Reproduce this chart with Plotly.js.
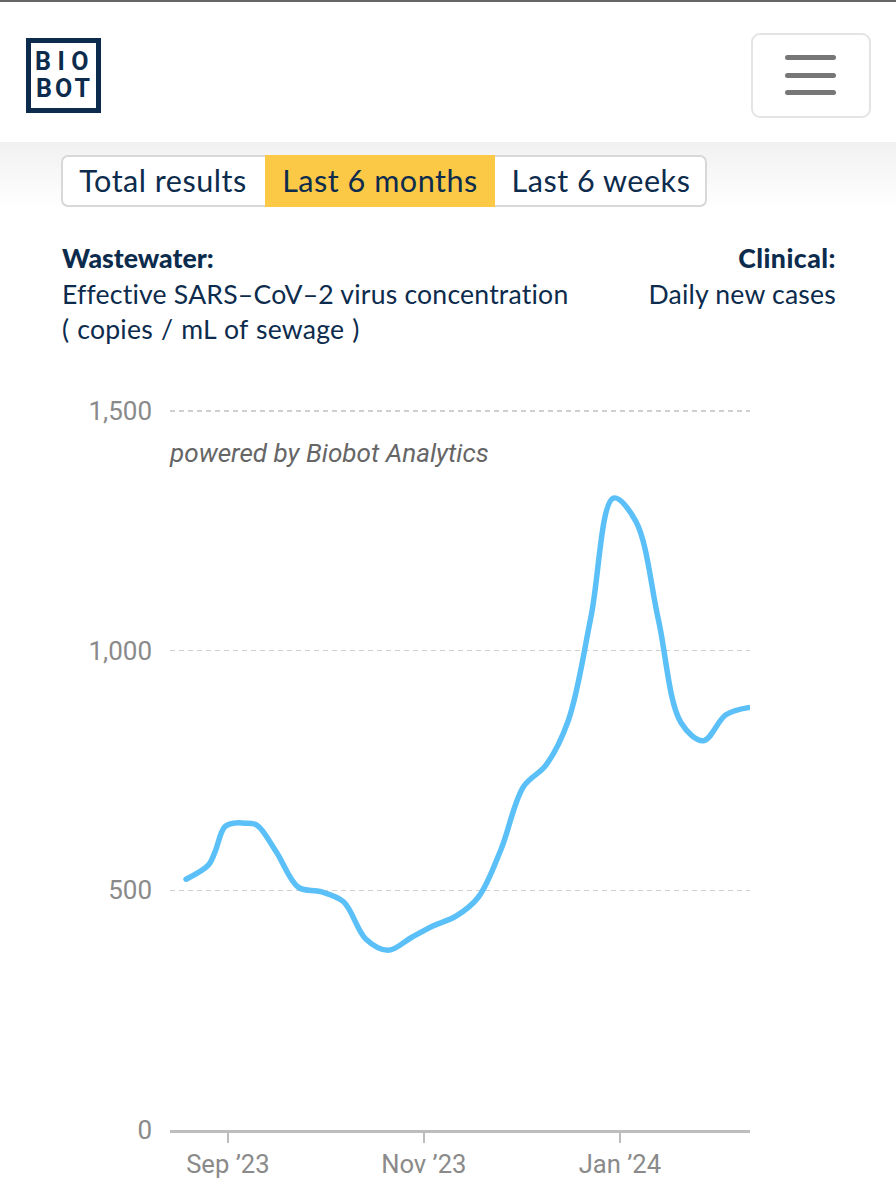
<!DOCTYPE html>
<html><head><meta charset="utf-8">
<script src="https://cdn.plot.ly/plotly-3.0.1.min.js"></script>
<style>
html,body{margin:0;padding:0;background:#fff;width:896px;height:1200px;overflow:hidden}
#page{position:relative;width:896px;height:1200px;font-family:"Lato",sans-serif;color:#0d2c4d}
#plot{position:absolute;left:0;top:0;width:896px;height:1200px}
.a{position:absolute;white-space:nowrap}
.btn{position:absolute;top:155px;height:52px;line-height:51px;font-size:30.6px;text-align:center;box-sizing:border-box;letter-spacing:.5px}
.t{font-size:26.6px;line-height:30px;letter-spacing:.2px}
.bar{position:absolute;left:785px;width:51px;height:5px;border-radius:3px;background:#777}
.logo{position:absolute;left:26px;width:75px;text-align:center;height:22px;line-height:22px;font-family:"Liberation Sans Narrow","Roboto",sans-serif;font-weight:700;font-size:25px}
.scatterlayer path.js-line{stroke-linecap:round}
</style></head><body>
<div id="page">
<div class="a" style="left:0;top:142px;width:896px;height:68px;background:linear-gradient(#f1f1f1,#fff)"></div>
<div class="a" style="left:0;top:0;width:896px;height:2px;background:#666"></div>
<div id="plot"></div>
<div class="a" style="left:26px;top:38px;width:75px;height:75px;box-sizing:border-box;border:5px solid #0d2c4d"></div>
<div class="logo" style="top:51px;letter-spacing:6.5px;padding-left:3px;box-sizing:border-box">BIO</div>
<div class="logo" style="top:78px;letter-spacing:3px;padding-left:2px;box-sizing:border-box">BOT</div>
<div class="a" style="left:751px;top:33px;width:120px;height:85px;box-sizing:border-box;border:2px solid #e4e4e4;border-radius:9px"></div>
<div class="bar" style="top:55px"></div><div class="bar" style="top:73px"></div><div class="bar" style="top:90px"></div>
<div class="a" style="left:61px;top:155px;width:646px;height:52px;box-sizing:border-box;border:2px solid #d8d8d8;border-radius:7px;background:#fff"></div>
<div class="btn" style="left:61px;width:204px">Total results</div>
<div class="btn" style="left:265px;width:230px;background:#fcc946">Last 6 months</div>
<div class="btn" style="left:495px;width:212px">Last 6 weeks</div>
<div class="a t" style="left:62px;top:243px;font-weight:900;letter-spacing:0">Wastewater:</div>
<div class="a t" style="left:62px;top:279px">Effective SARS&#8211;CoV&#8211;2 virus concentration</div>
<div class="a t" style="left:62px;top:314px;word-spacing:1px">( copies / mL of sewage )</div>
<div class="a t" style="right:60px;top:243px;font-weight:900;letter-spacing:.5px">Clinical:</div>
<div class="a t" style="right:60px;top:279px">Daily new cases</div>
</div>
<script>
const readDates = ["2023-08-19","2023-08-26","2023-08-28","2023-08-31","2023-09-03","2023-09-06","2023-09-10","2023-09-16","2023-09-23","2023-09-30","2023-10-07","2023-10-14","2023-10-21","2023-10-28","2023-11-04","2023-11-11","2023-11-18","2023-11-25","2023-12-02","2023-12-09","2023-12-16","2023-12-23","2023-12-30","2024-01-06","2024-01-13","2024-01-20","2024-01-27","2024-02-03","2024-02-10"];
const wastewater = [523,553,580,632,640,640,636,581,506,497,476,398,375,401,426,446,486,585,716,761,855,1070,1318,1269,1064,850,812,866,881];
const xTickVals = ["2023-09-01","2023-11-01","2024-01-01"];
const xTickText = ["Sep ’23","Nov ’23","Jan ’24"];
const yTickVals = [0,500,1000,1500];
const yTickText = ["0","500","1,000","1,500"];
const xRange = ["2023-08-14","2024-02-10 12:00"];
const yRange = [0,1510];
Plotly.newPlot("plot",[{
  type:"scatter",mode:"lines",x:readDates,y:wastewater,cliponaxis:false,
  line:{color:"#5bc0f8",width:5.5,shape:"spline",smoothing:1},hoverinfo:"skip"
}],{
  width:896,height:1200,showlegend:false,
  paper_bgcolor:"rgba(0,0,0,0)",plot_bgcolor:"rgba(0,0,0,0)",
  margin:{l:170,r:146,t:406.3,b:70,pad:0},
  xaxis:{type:"date",range:xRange,tickmode:"array",tickvals:xTickVals,ticktext:xTickText,
    showgrid:false,showline:true,linecolor:"#bdbdbd",linewidth:2.5,ticks:"outside",ticklen:10,tickwidth:2,tickcolor:"#bdbdbd",
    tickfont:{family:"Roboto",size:25.6,color:"#8a8a8a"},zeroline:false},
  yaxis:{range:yRange,tickmode:"array",tickvals:yTickVals,ticktext:yTickText,
    showgrid:true,gridcolor:"#cfcfcf",griddash:"5px,4px",gridwidth:1.5,zeroline:false,showline:false,ticks:"",ticklabelstandoff:17,
    tickfont:{family:"Roboto",size:26,color:"#8a8a8a"}},
  annotations:[{xref:"paper",yref:"paper",x:0,xshift:-3,y:0.9348,xanchor:"left",yanchor:"middle",showarrow:false,
    text:"<i>powered by Biobot Analytics</i>",font:{family:"Roboto",size:26.1,color:"#666"}}]
},{displayModeBar:false,staticPlot:true});
</script>
</body></html>
